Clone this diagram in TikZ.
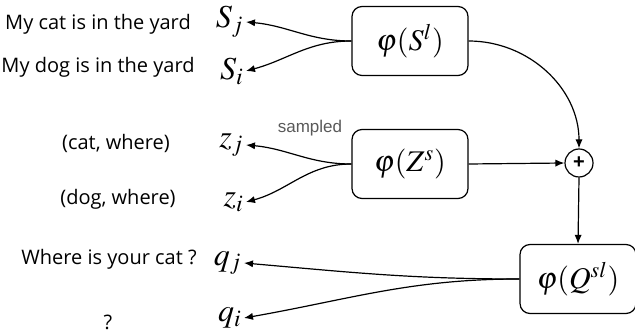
\documentclass[tikz,border=0pt]{standalone}
\usepackage{mathptmx}
\usepackage{fontspec}
\setmainfont{Open Sans}
\setsansfont{Liberation Sans}
\usetikzlibrary{arrows.meta}

\tikzset{
  box/.style={draw, rounded corners=5pt, line width=0.6pt, minimum width=58pt,
    minimum height=34.5pt, font=\fontsize{15}{18}\selectfont},
  var/.style={inner sep=1pt, font=\fontsize{16}{18}\selectfont},
  lab/.style={inner sep=0pt, font=\fontsize{10}{12}\selectfont},
  arr/.style={-{Latex[length=4.5pt,width=3.6pt]}, line width=0.6pt},
}

\begin{document}
\begin{tikzpicture}[x=0.5pt,y=-0.5pt]
    \useasboundingbox (0,0) rectangle (635,335);

    % Bloques
    \node[box] (S) at (410,41) {$\varphi(S^{l})$};
    \node[box] (Z) at (410,164) {$\varphi(Z^{s})$};
    \node[box] (Q) at (578,279) {$\varphi(Q^{sl})$};
    \node[draw, circle, line width=0.6pt, minimum size=14pt, inner sep=0pt,
      font=\sffamily\bfseries] (plus) at (579,163) {+};

    % Variables
    \node[var, anchor=east] (sj) at (246,22) {$S_j$};
    \node[var, anchor=east] (si) at (246,71) {$S_i$};
    \node[var, anchor=east] (zj) at (246,145) {$z_j$};
    \node[var, anchor=east] (zi) at (246,202) {$z_i$};
    \node[var, anchor=east] (qj) at (244,263) {$q_j$};
    \node[var, anchor=east] (qi) at (244,318) {$q_i$};

    % Frases
    \node[lab] (tsj) at (98,24) {My cat is in the yard};
    \node[lab] (tsi) at (98,67) {My dog is in the yard};
    \node[lab] (tzj) at (116,143) {(cat, where)};
    \node[lab] (tzi) at (118,199) {(dog, where)};
    \node[lab] (tqj) at (109,259) {Where is your cat ?};
    \node[lab] (tqi) at (108,322) {?};

    % Flechas
    \draw[arr] (S.west) to[out=180,in=-5] (sj.east);
    \draw[arr] (S.west) to[out=180,in=15] (si.east);
    \draw[arr] (Z.west) to[out=180,in=-5] (zj.east);
    \draw[arr] (Z.west) to[out=180,in=15] (zi.east);
    \draw[arr] (Q.west) to[out=180,in=-5] (qj.east);
    \draw[arr] (Q.west) to[out=180,in=10] (qi.east);
    \node[font=\sffamily\fontsize{8.5}{10}\selectfont, text=gray!70!black] (smp) at (310,128) {sampled};

    \draw[arr] (S.east) to[out=0,in=90] (plus.north);
    \draw[arr] (Z.east) -- (plus.west);
    \draw[arr] (plus.south) -- (Q.north);
\end{tikzpicture}
\end{document}
